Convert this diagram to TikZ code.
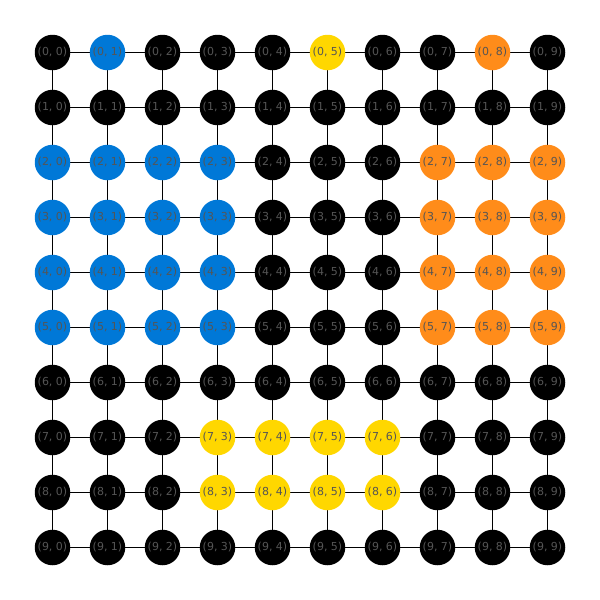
\documentclass[tikz,border=0pt]{standalone}
\usepackage{fontspec}
\setmainfont{DejaVu Sans}
\definecolor{nblue}{HTML}{0078D7}
\definecolor{nyellow}{HTML}{FFD700}
\definecolor{norange}{HTML}{FF8C1A}
\definecolor{ntext}{HTML}{555555}
\begin{document}
\begin{tikzpicture}[x=1pt,y=-1pt,
  gnode/.style={circle,fill=black,minimum size=35.5pt,inner sep=0pt,text=ntext,font=\fontsize{11}{11}\selectfont},
  gedge/.style={line width=1.2pt,black}]
\useasboundingbox (0,0) rectangle (600,600);
\foreach \i in {0,...,9}{
  \foreach \j in {0,...,9}{
    \coordinate (c\i\j) at ({52.5+55*\j},{52.5+55*\i});
  }
}
\foreach \i in {0,...,9}{
  \foreach \j [evaluate=\j as \k using int(\j+1)] in {0,...,8}{
    \draw[gedge] (c\i\j) -- (c\i\k);
    \draw[gedge] (c\j\i) -- (c\k\i);
  }
}
\foreach \i in {0,...,9}{
  \foreach \j in {0,...,9}{
    \def\col{black}
    \ifnum\i=0 \ifnum\j=1 \def\col{nblue}\fi \ifnum\j=5 \def\col{nyellow}\fi \ifnum\j=8 \def\col{norange}\fi\fi
    \ifnum\i>1 \ifnum\i<6
      \ifnum\j<4 \def\col{nblue}\fi
      \ifnum\j>6 \def\col{norange}\fi
    \fi\fi
    \ifnum\i>6 \ifnum\i<9
      \ifnum\j>2 \ifnum\j<7 \def\col{nyellow}\fi\fi
    \fi\fi
    \node[gnode,fill=\col] (n\i\j) at (c\i\j) {(\i, \j)};
  }
}
\end{tikzpicture}
\end{document}
